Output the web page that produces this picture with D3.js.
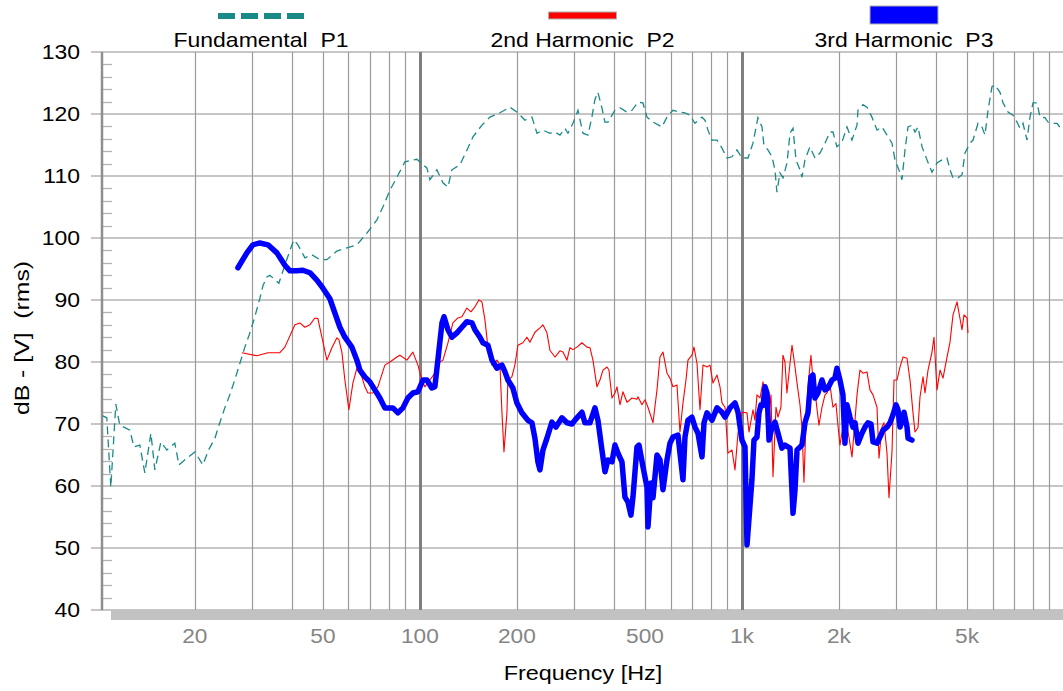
<!DOCTYPE html>
<html><head><meta charset="utf-8">
<script src="https://cdn.jsdelivr.net/npm/d3@7"></script>
<style>html,body{margin:0;padding:0;background:#fff;overflow:hidden;} svg{display:block;}</style>
</head><body>
<script>
// ---------------- DATA ----------------
const seriesNames = ["Fundamental  P1", "2nd Harmonic  P2", "3rd Harmonic  P3"];

const fundFreq = [10.36,10.66,10.97,11.37,11.70,12.04,12.57,12.94,13.50,13.99,14.61,15.03,15.69,16.38,17.34,17.85,18.90,20.01,21.19,22.06,23.09,23.91,24.78,25.68,26.61,27.61,28.61,29.65,30.72,31.86,32.55,33.48,34.21,36.48,38.08,39.47,40.62,41.80,43.95,46.20,48.92,51.42,55.25,59.34,63.73,68.44,73.52,76.75,80.69,84.84,89.83,97.88,105.1,107.4,112.9,117.9,122.2,125.7,133.1,140.0,146.1,155.8,165.0,177.2,190.3,201.5,211.9,222.8,230.9,241.0,253.4,262.6,272.2,282.1,288.2,298.7,309.6,320.8,332.5,342.0,349.4,357.0,367.4,375.4,383.6,403.3,417.9,439.4,455.4,475.3,492.6,507.0,529.2,564.3,584.8,610.5,642.0,665.3,689.5,714.5,751.3,767.6,784.2,807.0,836.5,866.9,898.4,930.9,965.0,1000,1044,1082,1121,1154,1170,1204,1240,1266,1284,1312,1341,1380,1410,1440,1472,1514,1536,1569,1626,1686,1747,1811,1876,1917,1972,2045,2119,2196,2276,2292,2375,2444,2533,2626,2722,2821,2923,2987,3096,3140,3208,3278,3373,3446,3521,3624,3755,3892,4033,4180,4332,4426,4522,4687,4823,4927,5107,5218,5408,5564,5684,5808,5976,6106,6328,6466,6702,6945,7145,7300,7458,7676,7842,8012,8245,8423,8730,8919,9178,9513,9858];
const fundDb = [71.3,71.0,59.8,73.2,69.8,69.5,69.0,66.3,66.6,62.1,68.5,62.6,67.1,65.8,66.9,63.4,64.5,65.5,63.4,65.8,67.7,70.2,72.6,74.7,77.1,79.8,82.4,84.7,87.3,90.3,92.3,93.7,94.0,92.7,95.6,98.0,99.7,98.9,96.8,97.3,96.5,96.5,97.9,98.4,98.9,100.8,102.9,105.0,107.7,109.8,112.3,112.7,111.3,109.4,111.0,108.9,108.2,111.0,111.8,114.2,116.3,118.2,119.5,120.2,121.1,120.2,119.0,119.5,116.9,117.4,116.9,117.1,116.6,117.7,116.9,118.5,120.6,116.9,116.6,119.5,122.3,123.5,121.0,118.7,118.7,120.6,121.0,120.3,120.6,121.9,121.8,119.5,118.7,117.9,119.5,120.6,120.3,120.2,119.8,118.5,119.5,119.0,117.4,115.8,115.8,114.5,112.9,113.1,114.2,112.9,112.9,115.3,119.4,117.9,115.0,114.2,113.1,111.0,107.4,110.5,109.7,112.1,116.9,117.7,112.6,111.0,109.8,112.6,114.7,112.9,113.7,115.3,117.1,117.1,114.7,115.5,117.9,115.8,118.2,120.6,121.5,121.1,119.5,117.4,117.9,116.6,115.3,112.6,110.5,109.4,114.2,117.9,118.2,117.1,117.9,114.7,112.6,110.6,112.1,112.6,112.9,111.0,109.7,109.7,110.2,113.7,115.3,115.8,118.5,117.9,116.6,120.6,124.4,124.7,123.5,121.8,120.3,119.8,118.7,117.7,118.5,115.8,119.5,121.8,121.8,119.5,119.4,118.7,118.5,118.5,117.4];

const h2Freq = [28.01,31.17,33.74,36.74,38.08,40.91,42.39,43.93,45.53,47.19,48.21,49.62,51.43,53.30,55.24,56.03,57.24,58.48,60.18,61.93,63.73,66.04,67.47,68.93,71.45,74.05,77.83,80.69,84.84,86.67,91.13,95.12,98.58,101.4,103.6,107.4,111.3,113.7,117.9,122.2,126.6,131.2,135.0,139.9,144.0,148.2,152.5,155.8,159.2,162.6,167.4,173.5,177.2,179.8,182.4,186.3,187.6,193.0,197.2,201.5,208.8,214.9,219.6,227.6,235.9,241.0,248.0,253.4,262.6,272.2,278.1,286.2,292.3,298.6,307.3,318.5,330.1,337.3,344.6,354.6,362.3,370.2,380.9,386.4,394.8,403.4,409.2,418.0,427.1,439.5,455.5,472.1,475.4,489.2,499.9,510.7,529.3,544.7,556.5,568.6,585.1,597.7,610.7,628.4,642.0,655.9,670.2,679.8,699.5,709.7,725.0,740.8,756.9,778.9,795.7,813.0,836.6,854.7,867.0,885.8,905.0,931.2,951.4,972.1,1000,1007.5,1036.8,1051.7,1082,1097.5,1113.4,1138,1162.7,1179.4,1205,1230.8,1248.5,1275.6,1294,1321.4,1340.5,1359.8,1379.4,1410,1430.3,1461.3,1482.5,1514,1535.8,1558,1580.5,1603.2,1637.7,1661.3,1697.4,1734.1,1772.2,1810.6,1836.8,1876,1916.7,1958.4,1986.5,2015,2058.7,2103.5,2149,2196.2,2243.8,2276.3,2325,2375.5,2444.5,2498,2552.2,2626.4,2664.1,2721.6,2761,2820.9,2861.4,2923.5,2965.9,3030.1,3096,3163.2,3255.1,3325,3397.2,3446,3520.8,3572,3649.5,3702,3782.4,3891.2,3947.6,4033.2,4121,4210.4,4332.8,4426,4522,4653.5,4720.3,4822.5,4892.3,4998.4,5034];
const h2Db = [81.5,81.0,81.5,81.5,82.4,86.0,86.3,85.6,86.0,87.1,87.0,84.0,80.3,82.3,83.9,83.6,81.6,77.1,72.3,76.6,79.0,77.6,76.0,75.0,75.0,76.0,79.5,80.0,80.8,81.1,80.3,81.6,79.5,77.1,76.0,77.1,78.2,79.8,80.3,83.1,86.3,87.1,87.3,88.7,88.1,88.9,90.0,89.7,86.8,82.4,79.5,80.3,79.5,71.8,65.5,71.8,77.1,77.6,79.5,82.7,83.1,84.0,83.2,84.8,85.5,86.0,84.7,81.9,80.8,81.8,81.6,80.3,82.3,82.0,82.4,83.1,82.4,82.3,80.3,76.0,77.1,78.7,79.2,78.7,74.2,75.0,76.0,73.1,75.2,73.5,74.2,74.0,74.4,73.1,73.9,72.7,70.2,75.5,80.8,81.6,78.2,77.4,76.0,76.3,68.7,73.4,77.1,80.3,81.1,82.4,79.8,72.3,79.5,79.2,79.5,76.6,77.9,76.0,73.4,72.7,65.3,65.8,62.6,68.5,71.8,71.9,71.8,68.7,72.3,70.6,74.7,74.2,76.8,74.7,70.2,74.7,61.5,72.7,71.1,72.7,81.1,80.0,75.0,79.8,82.7,79.2,76.6,73.1,69.4,60.6,70.2,76.0,81.1,77.1,73.9,69.8,72.7,74.7,75.0,76.3,72.7,73.3,69.8,66.6,69.5,70.6,67.9,64.7,70.6,74.7,78.7,78.2,78.4,75.5,74.7,72.7,64.5,69.5,70.2,65.3,58.1,65.5,77.1,77.1,79.2,80.8,80.6,77.1,71.8,68.7,69.4,74.4,77.6,75.0,78.7,81.6,84.0,75.5,78.7,77.4,80.8,83.2,87.6,89.7,87.9,85.2,87.6,87.1,84.7];

const h3Freq = [27.22,29.02,30.29,31.86,33.74,35.97,38.08,39.47,41.50,43.31,45.53,47.87,49.98,52.54,54.45,56.43,58.48,61.48,63.73,65.10,67.47,69.93,72.47,75.10,77.83,80.69,82.44,85.44,88.55,91.77,95.12,98.58,102.2,105.1,108.9,111.3,113.7,117.1,118.8,122.2,125.7,130.3,135.0,139.9,145.1,148.2,153.6,156.9,162.6,167.4,173.5,179.8,183.7,187.6,194.4,200.1,207.3,216.4,222.8,227.6,232.5,235.9,241.0,248.0,257.0,264.5,276.1,286.2,296.5,307.3,318.5,325.4,337.3,349.6,357.2,367.5,375.5,383.6,394.8,403.4,412.1,424.0,433.2,442.6,452.2,458.7,472.1,478.9,492.8,507.1,510.7,521.8,529.3,544.7,556.5,568.6,585.1,597.7,610.7,632.9,655.9,665.4,679.8,699.5,714.7,730.2,751.5,762.4,778.9,807.2,836.6,867.0,885.8,918.0,951.4,972.1,1000,1022,1036.8,1074,1089.8,1113.4,1129.4,1146.2,1162.7,1179.4,1196.5,1213.7,1239.6,1266.5,1294,1330.9,1359.8,1410,1440.6,1461.3,1482.5,1535.8,1569.1,1603.2,1637.7,1661.3,1685.2,1721.8,1772.2,1810.6,1849.9,1903,1944.3,1972.4,2015,2058.7,2088.3,2118.6,2165,2212,2243.8,2292.5,2358.5,2409.6,2461.9,2516,2552.2,2626.4,2683,2741.2,2820.9,2882,2944.5,3008.5,3051.7,3096,3163.2,3186.1,3255.1,3278.4,3372.9];
const h3Db = [95.2,97.6,98.9,99.2,98.9,97.6,95.6,94.7,94.7,94.8,94.4,93.2,91.9,90.2,87.9,85.6,84.0,82.4,80.3,78.7,77.6,76.8,75.5,74.2,72.6,72.6,72.6,71.8,72.6,74.2,75.0,75.2,77.1,77.1,75.8,76.0,80.3,86.3,87.3,85.2,84.0,84.7,85.6,86.5,86.3,85.2,84.0,83.1,82.7,80.3,79.0,79.5,78.4,77.1,75.8,73.4,71.8,70.6,70.2,67.7,63.9,62.6,65.8,67.7,70.3,69.5,71.0,70.2,70.0,71.0,71.9,70.2,70.2,72.6,70.6,65.8,62.3,64.2,63.9,66.6,65.3,63.9,58.2,57.4,55.3,58.2,66.3,66.6,63.1,59.8,53.4,60.5,58.1,65.0,64.2,59.4,64.2,66.9,67.9,68.2,61.0,67.9,70.6,71.1,69.5,68.5,64.7,70.2,71.8,70.6,72.6,71.9,71.1,72.6,73.4,71.9,67.4,66.3,50.5,61.0,67.4,67.9,71.8,73.1,73.0,76.0,75.0,67.4,69.5,70.3,68.5,66.1,66.6,66.1,55.6,59.4,65.8,66.6,70.2,71.8,77.6,77.9,74.2,75.0,77.1,75.5,75.8,77.1,77.4,79.0,77.1,74.7,66.9,73.1,71.1,69.5,70.2,66.9,68.5,69.5,70.2,70.0,67.1,66.9,67.9,69.0,69.5,70.2,71.5,73.1,72.3,69.5,71.0,71.9,69.5,67.7,67.4];

const yTicks = [40,50,60,70,80,90,100,110,120,130];
const xTickValues = [20,50,100,200,500,1000,2000,5000];
const xTickLabels = ["20","50","100","200","500","1k","2k","5k"];
const gridFreqs = [20,30,40,50,60,70,80,90,100,200,300,400,500,600,700,800,900,1000,2000,3000,4000,5000,6000,7000,8000,9000,10000];
const decadeFreqs = [100,1000];
const xTitle = "Frequency [Hz]";
const yTitle = "dB - [V]  (rms)";

// ---------------- CHART ----------------
const W = 1063, H = 691;
const plot = {left: 102, right: 1064, top: 52, bottom: 610};
const FONT = '"Liberation Sans", Arial, Helvetica, sans-serif';
const colors = ["#1a8a86", "#ff0000", "#0000ff"];

const svg = d3.select("body").append("svg").attr("width", W).attr("height", H)
  .style("font-family", FONT);

const x = d3.scaleLog().domain([10.3, 10000]).range([plot.left, plot.right]);
const y = d3.scaleLinear().domain([40, 130]).range([plot.bottom, plot.top]);

function sText(parent, tx, ty, txt, size, fill, anchor, sx, rot) {
  const g = parent.append("g")
    .attr("transform", `translate(${tx},${ty})` + (rot ? ` rotate(${rot})` : "") + ` scale(${sx},1)`);
  g.append("text").attr("x", 0).attr("y", 0)
    .attr("font-size", size).attr("fill", fill).attr("text-anchor", anchor)
    .style("white-space", "pre").text(txt);
  return g;
}

// horizontal gridlines
svg.append("g").selectAll("line").data(yTicks).join("line")
  .attr("x1", 91).attr("x2", W)
  .attr("y1", d => y(d)).attr("y2", d => y(d))
  .attr("stroke", "#c6c6c6").attr("stroke-width", 2);

// minor ticks on y axis
const minor = y.ticks(45).filter(v => v % 10 !== 0);
svg.append("g").selectAll("line").data(minor).join("line")
  .attr("x1", plot.left).attr("x2", plot.left + 10)
  .attr("y1", d => Math.round(y(d)) + 0.5).attr("y2", d => Math.round(y(d)) + 0.5)
  .attr("stroke", "#b4b4b4").attr("stroke-width", 1.3);

// vertical gridlines
svg.append("g").selectAll("line").data(gridFreqs).join("line")
  .attr("x1", d => Math.round(x(d)) + 0.5).attr("x2", d => Math.round(x(d)) + 0.5)
  .attr("y1", plot.top).attr("y2", plot.bottom)
  .attr("stroke", d => decadeFreqs.includes(d) ? "#7f7f7f" : "#9a9a9a")
  .attr("stroke-width", d => decadeFreqs.includes(d) ? 3 : 1.2);

// y axis line
svg.append("line").attr("x1", plot.left).attr("x2", plot.left)
  .attr("y1", plot.top).attr("y2", plot.bottom)
  .attr("stroke", "#8e8e8e").attr("stroke-width", 2.5);

// bottom bar
svg.append("rect").attr("x", 111).attr("y", plot.bottom).attr("width", W - 111).attr("height", 10)
  .attr("fill", "#c2c2c2");

// y tick labels
yTicks.forEach(v => sText(svg, 80, y(v) + 7, String(v), 20, "#000", "end", 1.15));

// x tick labels
xTickValues.forEach((v, i) => sText(svg, x(v), 643, xTickLabels[i], 21, "#858585", "middle", 1.08));

// axis titles
sText(svg, 583, 680, xTitle, 20, "#000", "middle", 1.17);
sText(svg, 29, 338, yTitle, 20, "#000", "middle", 1.24, -90);

// curves
const series = [
  {f: fundFreq, v: fundDb},
  {f: h2Freq, v: h2Db},
  {f: h3Freq, v: h3Db}
].map((s, i) => ({name: seriesNames[i], pts: s.f.map((f, j) => [f, s.v[j]])}));

const line = d3.line().x(d => x(d[0])).y(d => y(d[1]));
const curveG = svg.append("g");
curveG.append("path").datum(series[0].pts).attr("d", line)
  .attr("fill", "none").attr("stroke", colors[0]).attr("stroke-width", 1.3)
  .attr("stroke-dasharray", "8,5");
curveG.append("path").datum(series[1].pts).attr("d", line)
  .attr("fill", "none").attr("stroke", colors[1]).attr("stroke-width", 1.1)
  .attr("stroke-linejoin", "round");
curveG.append("path").datum(series[2].pts).attr("d", line)
  .attr("fill", "none").attr("stroke", colors[2]).attr("stroke-width", 5.5)
  .attr("stroke-linejoin", "round").attr("stroke-linecap", "round");

// legend
const lx = d3.scalePoint().domain(seriesNames).range([261, 904]);
const leg = svg.append("g");
seriesNames.forEach((n, i) => {
  const cx = lx(n);
  sText(leg, cx, 47, n, 20, "#000", "middle", 1.15);
  if (i === 0) {
    leg.append("line").attr("x1", cx - 43).attr("x2", cx + 43).attr("y1", 16).attr("y2", 16)
      .attr("stroke", colors[0]).attr("stroke-width", 6).attr("stroke-dasharray", "17,6");
  } else if (i === 1) {
    leg.append("rect").attr("x", cx - 34).attr("y", 12).attr("width", 68).attr("height", 7)
      .attr("fill", colors[1]).attr("stroke", "#b0b0b0").attr("stroke-width", 1);
  } else {
    leg.append("rect").attr("x", cx - 34).attr("y", 6).attr("width", 68).attr("height", 18)
      .attr("fill", colors[2]).attr("stroke", "#b0b0b0").attr("stroke-width", 1);
  }
});
</script>
</body></html>
